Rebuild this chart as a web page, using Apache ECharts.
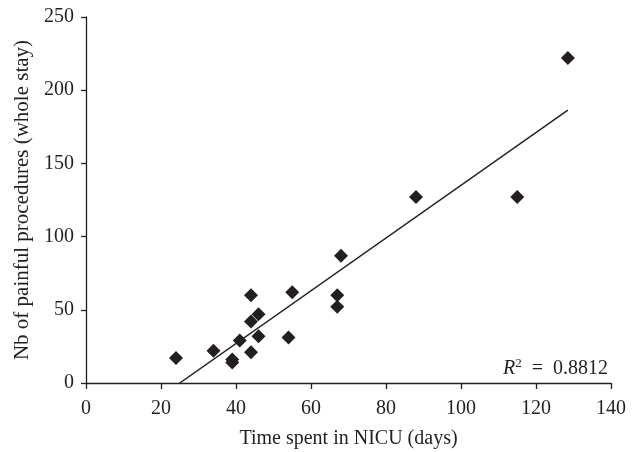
<!DOCTYPE html>
<html>
<head>
<meta charset="utf-8">
<script src="https://cdn.jsdelivr.net/npm/echarts@6/dist/echarts.min.js"></script>
<style>html,body{margin:0;padding:0;background:#fff}#c{width:637px;height:452px}</style>
</head>
<body>
<div id="c"></div>
<script>
const daysInNICU = [24, 34, 39, 39, 41, 44, 44, 46, 44, 46, 55, 54, 67, 67, 68, 88, 115, 128.5];
const painfulProcedures = [17, 22, 16, 14, 29, 21, 42, 47, 60, 32, 62, 31, 60, 52, 87, 127, 127, 222];
const xTicks = [0, 20, 40, 60, 80, 100, 120, 140];
const yTicks = [0, 50, 100, 150, 200, 250];
const r2Label = '0.8812';

const pts = daysInNICU.map((x, i) => [x, painfulProcedures[i]]);
// least squares fit from the data
const n = pts.length;
let sx = 0, sy = 0, sxx = 0, sxy = 0;
pts.forEach(([x, y]) => { sx += x; sy += y; sxx += x * x; sxy += x * y; });
const slope = (n * sxy - sx * sy) / (n * sxx - sx * sx);
const intercept = (sy - slope * sx) / n;
const xmin = Math.min(...daysInNICU), xmax = Math.max(...daysInNICU);
const trend = [[xmin, slope * xmin + intercept], [xmax, slope * xmax + intercept]];

const font = 'Liberation Serif';
const ink = '#231f20';
const chart = echarts.init(document.getElementById('c'), null, {renderer: 'canvas'});
chart.setOption({
  animation: false,
  grid: {left: 86, right: 26, top: 17, bottom: 69, containLabel: false, outerBoundsMode: 'none'},
  xAxis: {
    type: 'value', min: 0, max: 140, interval: 20,
    name: 'Time spent in NICU (days)', nameLocation: 'middle', nameGap: 46,
    nameTextStyle: {fontFamily: font, fontSize: 20, color: ink},
    axisLine: {lineStyle: {color: ink, width: 1.3}},
    axisTick: {show: true, inside: false, length: 6, lineStyle: {color: ink, width: 1.3}},
    axisLabel: {fontFamily: font, fontSize: 20, color: ink, margin: 16,
      formatter: v => xTicks.includes(v) ? String(v) : ''},
    splitLine: {show: false}
  },
  yAxis: {
    type: 'value', min: 0, max: 250, interval: 50,
    name: 'Nb of painful procedures (whole stay)', nameLocation: 'middle', nameGap: 46,
    nameTextStyle: {fontFamily: font, fontSize: 21, color: ink},
    axisLine: {show: true, lineStyle: {color: ink, width: 1.3}},
    axisTick: {show: true, inside: false, length: 5, lineStyle: {color: ink, width: 1.3}},
    axisLabel: {fontFamily: font, fontSize: 20, color: ink, margin: 12,
      formatter: v => yTicks.includes(v) ? String(v) : ''},
    splitLine: {show: false}
  },
  series: [
    {
      type: 'line', data: trend, showSymbol: false, symbol: 'none', clip: true,
      lineStyle: {color: ink, width: 1.4}, z: 1
    },
    {
      type: 'scatter', data: pts, symbol: 'diamond', symbolSize: 14,
      itemStyle: {color: ink, opacity: 1}, z: 2
    }
  ],
  graphic: [{
    type: 'text', right: 29, top: 357,
    style: {
      rich: {
        r: {fontFamily: font, fontSize: 20, fontStyle: 'italic', fill: ink},
        s: {fontFamily: font, fontSize: 13, fill: ink, verticalAlign: 'top', padding: [0, 0, 10, 0]},
        t: {fontFamily: font, fontSize: 20, fill: ink}
      },
      text: '{r|R}{s|2}{t|  =  ' + r2Label + '}'
    }
  }]
});
</script>
</body>
</html>
